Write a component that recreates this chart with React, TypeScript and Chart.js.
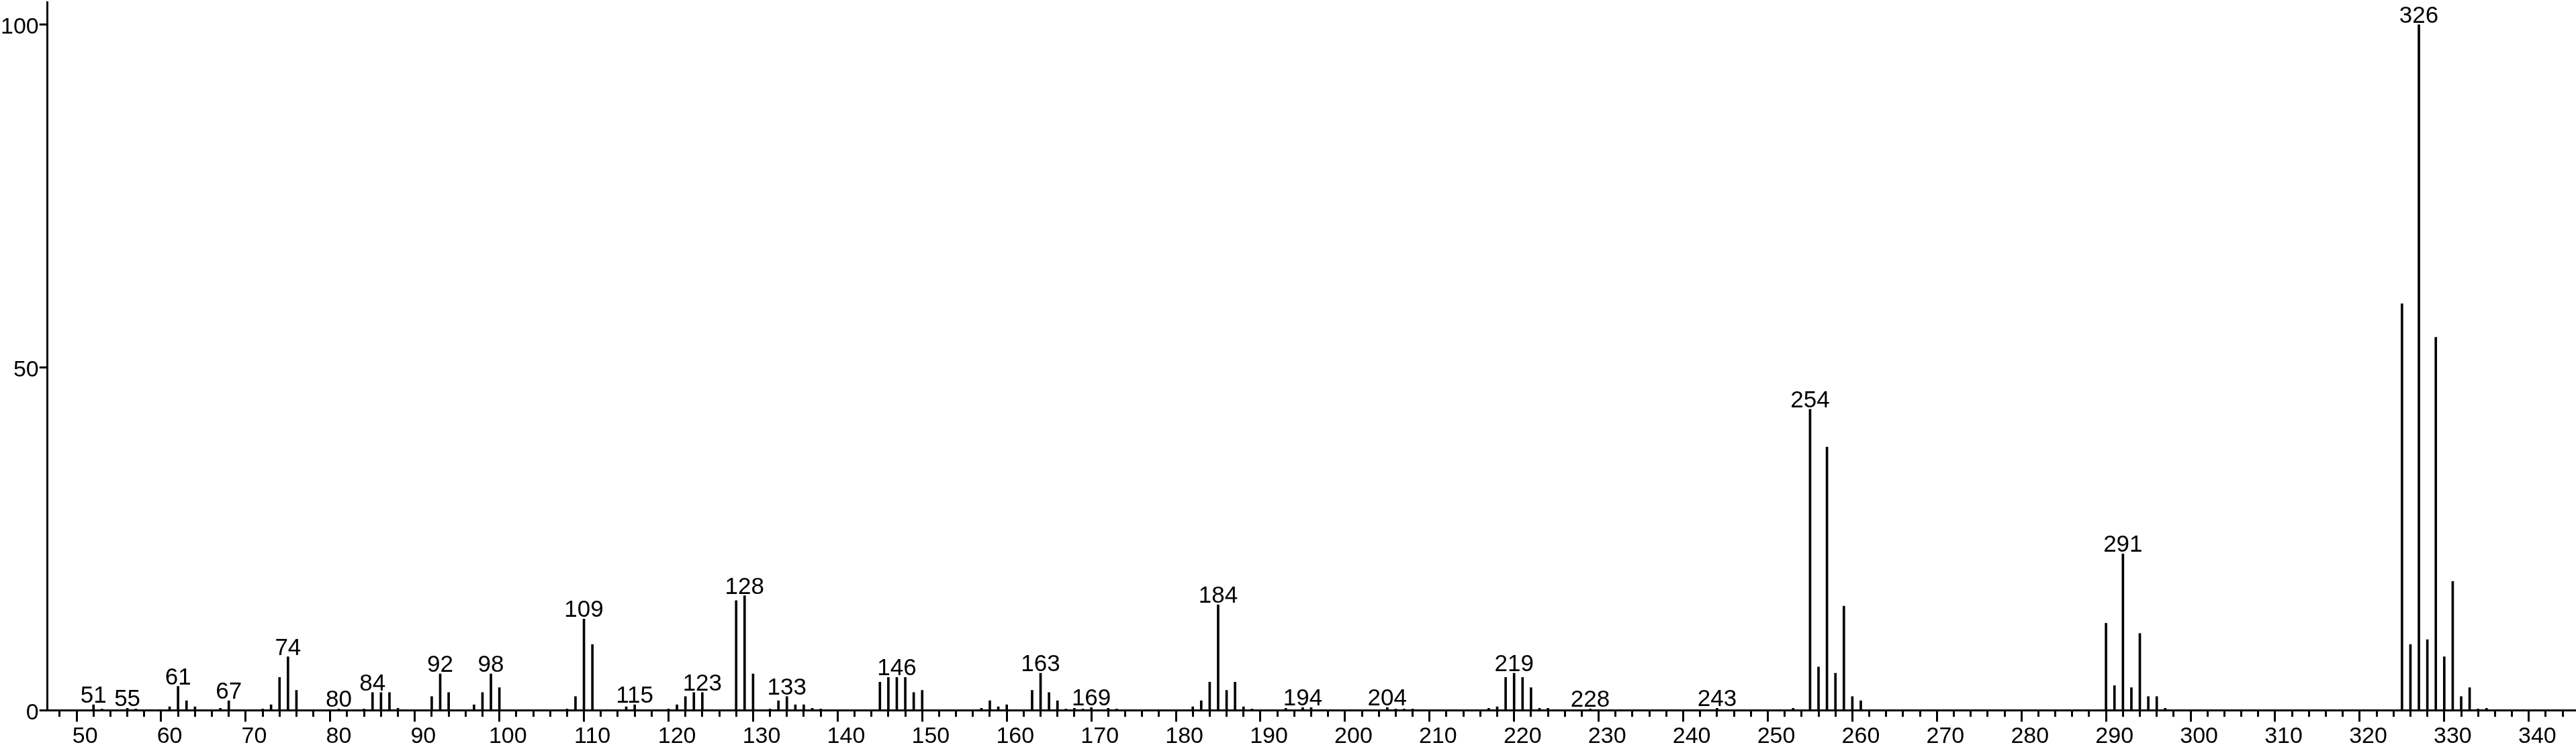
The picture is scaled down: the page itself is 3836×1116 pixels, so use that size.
import { useEffect, useRef } from "react";
import { Chart, registerables } from "chart.js";

Chart.register(...registerables);

// m/z of each peak
const mzValues = [
  51, 52, 55, 56, 60, 61, 62, 63, 66, 67, 71, 72, 73, 74, 75, 80, 83, 84, 85, 86, 87,
  91, 92, 93, 96, 97, 98, 99, 107, 108, 109, 110, 114, 115, 119, 120, 121, 122, 123,
  127, 128, 129, 131, 132, 133, 134, 135, 136, 137, 144, 145, 146, 147, 148, 149,
  156, 157, 158, 159, 162, 163, 164, 165, 166, 167, 168, 169, 171, 172,
  181, 182, 183, 184, 185, 186, 187, 188, 192, 194, 195, 204, 205, 206, 207,
  216, 217, 218, 219, 220, 221, 222, 223, 228, 243, 252,
  254, 255, 256, 257, 258, 259, 260,
  289, 290, 291, 292, 293, 294, 295, 296,
  324, 325, 326, 327, 328, 329, 330, 331, 332, 333, 334,
];

// relative intensity (%) of each peak
const intensities = [
  0.8, 0.2, 0.3, 0.2, 0.5, 3.5, 1.4, 0.5, 0.3, 1.4, 0.2, 0.8, 4.8, 7.8, 2.9, 0.2, 0.2, 2.6, 2.6, 2.6, 0.3,
  2.0, 5.3, 2.6, 0.8, 2.6, 5.3, 3.3, 0.2, 2.0, 13.3, 9.6, 0.5, 0.8, 0.2, 0.8, 2.0, 2.6, 2.6,
  16.0, 16.7, 5.3, 0.2, 1.4, 2.0, 0.8, 0.8, 0.3, 0.2, 4.1, 4.8, 4.8, 4.8, 2.6, 2.9,
  0.3, 1.4, 0.5, 0.8, 2.9, 5.4, 2.6, 1.4, 0.2, 0.3, 0.2, 0.4, 0.3, 0.2,
  0.5, 1.4, 4.1, 15.4, 2.9, 4.1, 0.5, 0.2, 0.3, 0.4, 0.4, 0.4, 0.2, 0.2, 0.2,
  0.3, 0.5, 4.8, 5.4, 4.8, 3.3, 0.3, 0.3, 0.2, 0.3, 0.3,
  43.9, 6.3, 38.4, 5.4, 15.2, 2.0, 1.4,
  12.7, 3.6, 22.8, 3.3, 11.2, 2.0, 2.0, 0.3,
  59.3, 9.6, 100, 10.3, 54.4, 7.8, 18.8, 2.0, 3.3, 0.2, 0.3,
];

// peaks annotated with their m/z
const labeledPeaks = [
  51, 55, 61, 67, 74, 80, 84, 92, 98, 109, 115, 123, 128, 133, 146, 163, 169,
  184, 194, 204, 219, 228, 243, 254, 291, 326,
];

const xMin = 45.56;
const xMax = 344.5;
const yMin = 0;
const yMax = 103.3;
const xMinorStep = 2;
const xMajorStep = 10;
const yStep = 50;

const FONT = '"Liberation Sans", Arial, Helvetica, sans-serif';
const X_TICK_LEN = 17;
const X_TICK_PAD = 5;
const X_FONT_SIZE = 34;

const peakLabelPlugin = {
  id: "peakLabels",
  afterDatasetsDraw(chart: any) {
    const meta = chart.getDatasetMeta(0);
    const ctx = chart.ctx;
    ctx.save();
    ctx.font = `35px ${FONT}`;
    ctx.fillStyle = "#000";
    ctx.textAlign = "center";
    ctx.textBaseline = "alphabetic";
    meta.data.forEach((el: any, i: number) => {
      const mz = mzValues[i];
      if (!labeledPeaks.includes(mz)) return;
      ctx.fillText(String(mz), el.x, el.y - 3);
    });
    ctx.restore();
  },
};

const zeroPadding = (scale: any) => {
  scale.paddingTop = 0;
  scale.paddingBottom = 0;
  scale.paddingLeft = 0;
  scale.paddingRight = 0;
};

export default function App() {
  const canvasRef = useRef<HTMLCanvasElement | null>(null);

  useEffect(() => {
    if (!canvasRef.current) return;
    const chart = new Chart(canvasRef.current, {
      type: "bar",
      data: {
        datasets: [
          {
            data: mzValues.map((mz, i) => ({ x: mz, y: intensities[i] })),
            backgroundColor: "#000",
            borderWidth: 0,
            barThickness: 3,
          } as any,
        ],
      },
      options: {
        responsive: false,
        animation: false,
        devicePixelRatio: 1,
        layout: { padding: { left: 0, top: 3, right: 1, bottom: 1.7 } },
        plugins: {
          legend: { display: false },
          tooltip: { enabled: false },
        },
        scales: {
          x: {
            type: "linear",
            min: xMin,
            max: xMax,
            offset: false,
            afterFit: (scale: any) => {
              zeroPadding(scale);
              scale.height = X_TICK_LEN + X_TICK_PAD + X_FONT_SIZE;
            },
            border: { display: true, color: "#000", width: 3 },
            grid: {
              display: true,
              drawOnChartArea: false,
              drawTicks: true,
              tickLength: X_TICK_LEN,
              tickWidth: 3,
              tickColor: "#000",
              tickBorderDash: (c: any) =>
                c.tick && Math.round(c.tick.value) % xMajorStep !== 0 ? [8, 1000] : [],
            } as any,
            ticks: {
              stepSize: xMinorStep,
              autoSkip: false,
              maxRotation: 0,
              minRotation: 0,
              includeBounds: false,
              padding: X_TICK_PAD,
              color: "#000",
              font: { family: FONT, size: X_FONT_SIZE, lineHeight: 1 },
              callback: (v: any) => (Math.round(v) % xMajorStep === 0 ? String(v) : ""),
            },
          } as any,
          y: {
            type: "linear",
            min: yMin,
            max: yMax,
            afterFit: zeroPadding,
            border: { display: true, color: "#000", width: 3 },
            grid: {
              display: true,
              drawOnChartArea: false,
              drawTicks: true,
              tickLength: 12,
              tickWidth: 3,
              tickColor: "#000",
            },
            ticks: {
              stepSize: yStep,
              includeBounds: false,
              padding: 1,
              labelOffset: 4,
              color: "#000",
              font: { family: FONT, size: 34, lineHeight: 1 },
            },
          } as any,
        },
      },
      plugins: [peakLabelPlugin],
    });
    return () => chart.destroy();
  }, []);

  return (
    <div style={{ position: "absolute", left: 0, top: 0, width: 3836, height: 1116, background: "#fff" }}>
      <canvas ref={canvasRef} width={3836} height={1116} style={{ display: "block" }} />
    </div>
  );
}
